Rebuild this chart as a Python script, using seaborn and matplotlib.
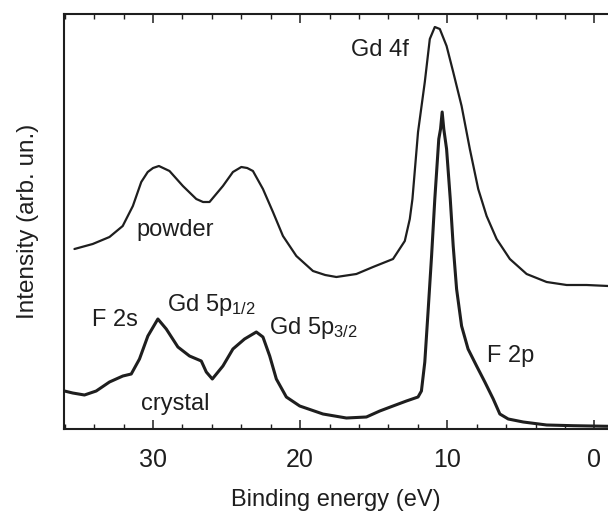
import matplotlib
matplotlib.use("Agg")
import matplotlib.pyplot as plt
from matplotlib.ticker import MultipleLocator
import seaborn as sns
import pandas as pd

# ---- data ----
powder_energy = [35.34, 34.1, 32.96, 32.06, 31.37, 30.8, 30.36, 30.0, 29.6, 28.88, 27.97,
                 27.06, 26.6, 26.16, 25.25, 24.57, 24.0, 23.6, 23.21, 22.53, 21.85, 21.17, 20.26,
                 19.13, 18.3, 17.54, 16.18, 15.05, 14.03, 13.69, 12.89, 12.55, 12.37, 11.99,
                 11.53, 11.19, 10.85, 10.51, 10.05, 9.6, 9.03, 8.47, 7.9, 7.33,
                 6.65, 5.75, 4.61, 3.25, 1.89, 0.53, -0.94]
powder_intensity = [180, 185, 192, 203, 223, 247, 257, 261, 263, 258, 243,
                    230, 227, 227, 243, 257, 262, 261, 258, 240, 217, 193, 173,
                    158, 154, 152, 155, 162, 168, 170, 188, 210, 230, 297,
                    347, 390, 402, 400, 383, 357, 323, 280, 240, 213,
                    190, 170, 155, 147, 144, 144, 143]

crystal_energy = [36.02, 35.46, 34.66, 33.86, 32.96, 32.05, 31.48, 30.92, 30.35, 29.67,
                  29.1, 28.31, 27.52, 26.72, 26.38, 25.97, 25.25, 24.57, 23.78, 22.98,
                  22.53, 22.07, 21.62, 20.94, 20.03, 18.45, 16.86, 15.5, 14.59, 13.69,
                  12.78, 11.99, 11.76, 11.53, 11.31, 11.07, 10.85, 10.58, 10.46, 10.35,
                  10.24, 10.05, 9.8, 9.6, 9.37, 9.03, 8.59, 8.01, 7.45, 6.88,
                  6.43, 5.86, 4.84, 3.25, 1.44, -0.94]
crystal_intensity = [38, 36, 34, 38, 47, 53, 55, 70, 93, 110,
                     100, 82, 73, 68, 57, 50, 63, 80, 90, 97,
                     92, 73, 50, 32, 23, 15, 11, 12, 18, 23,
                     28, 32, 38, 67, 117, 173, 230, 290, 300, 317,
                     300, 280, 230, 183, 140, 103, 80, 63, 47, 30,
                     15, 10, 7, 4, 3.3, 2.7]

x_ticks = [30, 20, 10, 0]

labels = [
    ("Gd 4f", 14.55, 373),
    ("powder", 28.46, 193),
    ("crystal", 28.46, 19),
    ("F 2s", 32.56, 103),
    ("F 2p", 5.67, 67),
]
sub_labels = [
    ("Gd 5p$_{1/2}$", 29.05, 118),
    ("Gd 5p$_{3/2}$", 22.15, 95),
]

# ---- style ----
sns.set_style("ticks")
plt.rcParams['font.family'] = ['Liberation Sans', 'DejaVu Sans']
plt.rcParams['mathtext.fontset'] = 'custom'
plt.rcParams['mathtext.rm'] = 'Liberation Sans'
plt.rcParams['mathtext.it'] = 'Liberation Sans'
plt.rcParams['mathtext.default'] = 'regular'

ink = "#1e1e1e"
fs = 17

fig = plt.figure(figsize=(6.08, 5.13), dpi=100)
ax = fig.add_axes([64 / 608, (513 - 429) / 513, (608 - 64) / 608, (429 - 14) / 513])

df_p = pd.DataFrame({"energy": powder_energy, "intensity": powder_intensity})
df_c = pd.DataFrame({"energy": crystal_energy, "intensity": crystal_intensity})
sns.lineplot(data=df_p, x="energy", y="intensity", ax=ax, color=ink, lw=1.6,
             estimator=None)
sns.lineplot(data=df_c, x="energy", y="intensity", ax=ax, color=ink, lw=2.2,
             estimator=None)

ax.set_xlim(36.05, -0.92)
ax.set_ylim(0, 415)

ax.set_xticks(x_ticks)
ax.xaxis.set_minor_locator(MultipleLocator(2))
ax.set_yticks([])
ax.tick_params(axis="x", which="major", direction="in", length=6.5, width=1.1,
               top=True, bottom=True, labelsize=18, pad=14, colors=ink)
ax.tick_params(axis="x", which="minor", direction="in", length=3.5, width=1.0,
               top=True, bottom=True, colors=ink)

for side in ["left", "bottom", "top"]:
    ax.spines[side].set_linewidth(1.5)
    ax.spines[side].set_color(ink)
ax.spines["right"].set_visible(False)

ax.set_xlabel("Binding energy (eV)", fontsize=fs, color=ink, labelpad=12)
ax.set_ylabel("Intensity (arb. un.)", fontsize=17.5, color=ink, labelpad=18)

for txt, x, y in labels:
    ax.text(x, y, txt, fontsize=fs, color=ink, ha="center", va="baseline")
for txt, x, y in sub_labels:
    ax.text(x, y, txt, fontsize=fs, color=ink, ha="left", va="baseline")

fig.savefig("out.png", dpi=100)
